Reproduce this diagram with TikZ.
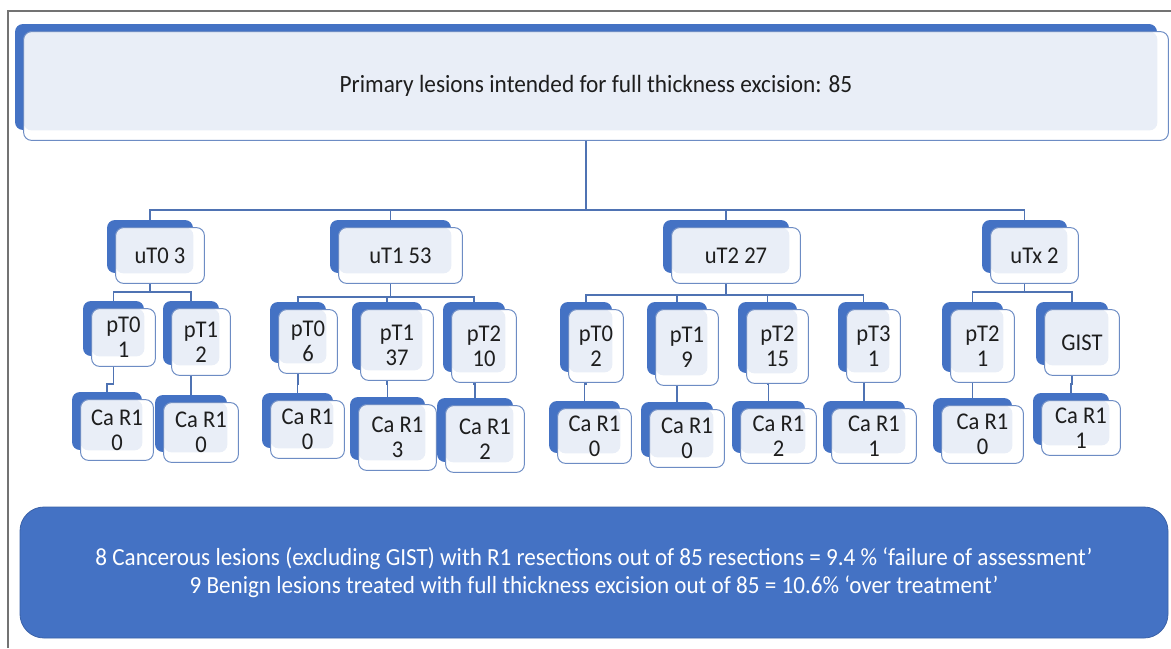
\documentclass[tikz,border=0pt]{standalone}
\usepackage{fontspec}
\setmainfont{Carlito}[FakeStretch=0.94]
\usepackage{tikz}
\usetikzlibrary{calc,fit,backgrounds}
\definecolor{boxblue}{HTML}{4472C4}
\definecolor{edgeblue}{HTML}{6D8CC4}
\definecolor{paleblue}{HTML}{E9EEF7}
\definecolor{lineblue}{HTML}{4F73B3}
\definecolor{inkgray}{HTML}{1E1E1E}
\tikzset{
	backbox/.style={draw=none, fill=boxblue, rounded corners=4pt, inner sep=0pt},
	frontbox/.style={draw=edgeblue, line width=0.5pt, fill=white, rounded corners=4pt, inner sep=0pt},
	boxtext/.style={inner sep=0pt, align=center, text=inkgray, font=\fontsize{12}{12.5}\selectfont},
	conn/.style={draw=lineblue, line width=0.6pt},
}
% back box from (#2,#3) to (#4,#5), front box offset down-right
\def\lesion#1(#2,#3,#4,#5)#6{%
	\node[backbox, fit={(#2,#3) (#4,#5)}] (#1) {};
	\node[frontbox, fit={($(#1.north west)+(9,8)$) ($(#1.south east)+(11,10)$)},
		path picture={\fill[paleblue] (path picture bounding box.north west) rectangle (#1.south east);}] (#1f) {};
	\node[boxtext] (#1t) at (#1f.center) {#6};
}

\begin{document}
\begin{tikzpicture}[x=0.5pt, y=-0.5pt]
			%%%%% START %%%%%
			\useasboundingbox (0,0) rectangle (1171,648);
			\draw[line width=0.6pt, color=black!55] (8,648) -- (8,11) -- (1171,11);
			
			\lesion{top}(15,24,1157,130){\fontsize{12.4}{13}\selectfont Primary lesions intended for full thickness excision: 85}
			
			\lesion{uT0}(107,220,193,273){uT0 3}
			\lesion{uT1}(330,220,451,273){uT1 53}
			\lesion{uT2}(663,220,789,273){uT2 27}
			\lesion{uTx}(982,220,1067,273){uTx 2}
			
			\lesion{pT0a}(83,301,144,356){pT0\\1}
			\lesion{pT1a}(163,301,219,365){pT1\\2}
			
			\lesion{pT0b}(270,302,326,363){pT0\\6}
			\lesion{pT1b}(352,302,422,370){pT1\\37}
			\lesion{pT2b}(443,302,505,372){pT2\\10}
			
			\lesion{pT0c}(560,302,612,372){pT0\\2}
			\lesion{pT1c}(647,302,707,375){pT1\\9}
			\lesion{pT2c}(738,302,797,373){pT2\\15}
			\lesion{pT3c}(838,302,889,372){pT3\\1}
			
			\lesion{pT2d}(942,302,1003,372){pT2\\1}
			\lesion{gist}(1036,302,1108,365){GIST}
			
			\lesion{caA0}(72,392,142,450){Ca R1\\0}
			\lesion{caA1}(155,395,227,452){Ca R1\\0}
			\lesion{caB0}(262,393,333,448){Ca R1\\0}
			\lesion{caB1}(350,397,425,460){Ca R1\\3}
			\lesion{caB2}(437,398,513,462){Ca R1\\2}
			\lesion{caC0}(549,401,620,453){Ca R1\\0}
			\lesion{caC1}(641,402,713,457){Ca R1\\0}
			\lesion{caC2}(732,401,805,453){Ca R1\\2}
			\lesion{caC3}(823,401,905,453){Ca R1\\1}
			\lesion{caD0}(933,398,1012,453){Ca R1\\0}
			\lesion{caD1}(1033,393,1109,445){Ca R1\\1}
			
			% connectors behind the boxes
			\begin{scope}[on background layer]
				\foreach \u in {uT0,uT1,uT2,uTx}
					\draw[conn] (top.south) -- (top.south |- 0,210) -| (\u.north);
				\foreach \p in {pT0a,pT1a}
					\draw[conn] (uT0.south) -- (uT0.south |- 0,292) -| (\p.north);
				\foreach \p in {pT0b,pT1b,pT2b}
					\draw[conn] (uT1.south) -- (uT1.south |- 0,297) -| (\p.north);
				\foreach \p in {pT0c,pT1c,pT2c,pT3c}
					\draw[conn] (uT2.south) -- (uT2.south |- 0,295) -| (\p.north);
				\foreach \p in {pT2d,gist}
					\draw[conn] (uTx.south) -- (uTx.south |- 0,292) -| (\p.north);
				\foreach \p/\c in {pT0a/caA0,pT1a/caA1,pT0b/caB0,pT1b/caB1,pT2b/caB2,pT0c/caC0,pT1c/caC1,pT2c/caC2,pT3c/caC3,pT2d/caD0,gist/caD1}
					\draw[conn] (\p.south) -- (\p.south |- 0,384) -| (\c.north);
			\end{scope}
			
			\node[fill=boxblue, draw=boxblue!85!black, line width=0.4pt, rounded corners=12pt, inner sep=0pt,
				fit={(20,507) (1168,638)}] (summary) {};
			\node[text=white, align=center, inner sep=0pt, font=\fontsize{12.3}{14}\selectfont] (summarytext) at (summary.center)
				{8 Cancerous lesions (excluding GIST) with R1 resections out of 85 resections = 9.4 \% ‘failure of assessment’\\
				9 Benign lesions treated with full thickness excision out of 85 = 10.6\% ‘over treatment’};
			%%%%% END %%%%%
\end{tikzpicture}
\end{document}
